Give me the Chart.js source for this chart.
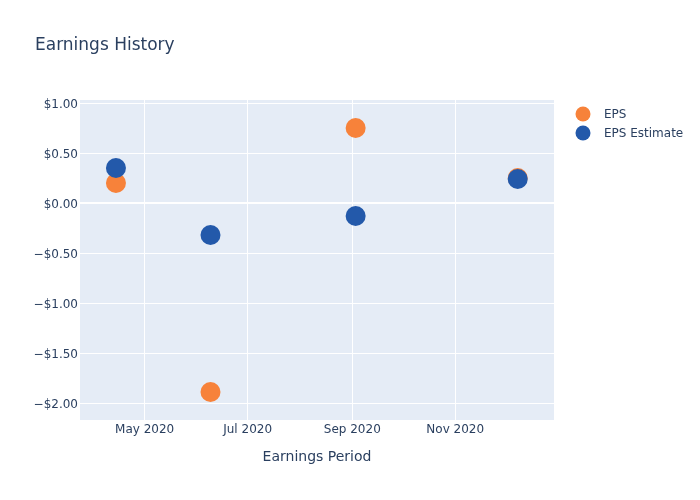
<!DOCTYPE html>
<html><head><meta charset="utf-8">
<script src="https://cdn.jsdelivr.net/npm/chart.js@4"></script>
<style>html,body{margin:0;padding:0;background:#fff}#wrap{width:700px;height:500px}</style>
</head><body><div id="wrap"><canvas id="c" width="700" height="500"></canvas></div>
<script>
const periods = ['2020-04-14','2020-06-09','2020-09-03','2020-12-08'];
const eps = [0.20, -1.89, 0.75, 0.25];
const epsEstimate = [0.35, -0.32, -0.13, 0.24];
const xTickDates = ['2020-05-01','2020-07-01','2020-09-01','2020-11-01'];
const xTickLabels = ['May 2020','Jul 2020','Sep 2020','Nov 2020'];
const yTicks = [1, 0.5, 0, -0.5, -1, -1.5, -2];
const seriesNames = ['EPS', 'EPS Estimate'];
const seriesColors = ['#f7823a', '#2359aa'];

const toDay = s => Date.parse(s + 'T00:00:00Z') / 864e5;
const xMin = toDay('2020-03-23') + 0.7, xMax = toDay('2020-12-29') + 0.5;
const FONT = "'DejaVu Sans', sans-serif";
const TXT = '#2a3f5f';

function fmtMoney(v) {
  const a = Math.abs(v).toFixed(2);
  return (v < -1e-9 ? '\u2212$' : '$') + a;
}

const bgPlugin = {
  id: 'bg',
  beforeDraw(chart) {
    const {ctx, chartArea: a} = chart;
    ctx.save();
    ctx.fillStyle = '#e5ecf6';
    ctx.fillRect(a.left, a.top, a.right - a.left, a.bottom - a.top);
    ctx.restore();
  },
  afterDraw(chart) {
    const {ctx, chartArea: a} = chart;
    ctx.save();
    ctx.fillStyle = TXT;
    ctx.font = '17px ' + FONT;
    ctx.textBaseline = 'middle';
    ctx.textAlign = 'left';
    ctx.fillText('Earnings History', 35, 45.5);
    ctx.font = '12px ' + FONT;
    seriesNames.forEach((n, i) => {
      const y = 114 + i * 19;
      ctx.beginPath();
      ctx.arc(583, y, 7.5, 0, Math.PI * 2);
      ctx.fillStyle = seriesColors[i];
      ctx.fill();
      ctx.fillStyle = TXT;
      ctx.fillText(n, 604, y + 1);
    });
    ctx.font = '14px ' + FONT;
    ctx.textAlign = 'center';
    ctx.fillText('Earnings Period', (a.left + a.right) / 2, 457);
    ctx.restore();
  }
};

new Chart(document.getElementById('c'), {
  type: 'scatter',
  data: {
    datasets: [
      { label: seriesNames[0], data: periods.map((p, i) => ({x: toDay(p), y: eps[i]})),
        backgroundColor: seriesColors[0], borderColor: seriesColors[0], pointRadius: 10, pointHoverRadius: 10, borderWidth: 0, order: 1 },
      { label: seriesNames[1], data: periods.map((p, i) => ({x: toDay(p), y: epsEstimate[i]})),
        backgroundColor: seriesColors[1], borderColor: seriesColors[1], pointRadius: 10, pointHoverRadius: 10, borderWidth: 0, order: 0 }
    ]
  },
  options: {
    responsive: false,
    animation: false,
    layout: { padding: { left: 0, right: 146, top: 100, bottom: 0 } },
    plugins: { legend: { display: false }, tooltip: { enabled: false }, title: { display: false } },
    scales: {
      x: {
        type: 'linear', min: xMin, max: xMax,
        afterBuildTicks(s) { s.ticks = xTickDates.map(d => ({value: toDay(d)})); },
        afterFit(s) { s.height = 80; },
        ticks: {
          color: TXT, font: { family: FONT, size: 12 }, padding: 3, maxRotation: 0, autoSkip: false,
          callback(v) { const i = xTickDates.findIndex(d => Math.abs(toDay(d) - v) < 0.01); return i >= 0 ? xTickLabels[i] : ''; }
        },
        grid: { color: '#ffffff', lineWidth: 1, drawTicks: false },
        border: { display: false }
      },
      y: {
        type: 'linear', min: -2.17, max: 1.03,
        afterBuildTicks(s) { s.ticks = yTicks.map(v => ({value: v})); },
        afterFit(s) { s.width = 80; },
        ticks: { color: TXT, font: { family: FONT, size: 12 }, padding: 2, labelOffset: 1.5, autoSkip: false, callback: v => fmtMoney(v) },
        grid: { color: '#ffffff', lineWidth: ctx => (ctx.tick && ctx.tick.value === 0) ? 2 : 1, drawTicks: false },
        border: { display: false }
      }
    }
  },
  plugins: [bgPlugin]
});
</script>
</body></html>
